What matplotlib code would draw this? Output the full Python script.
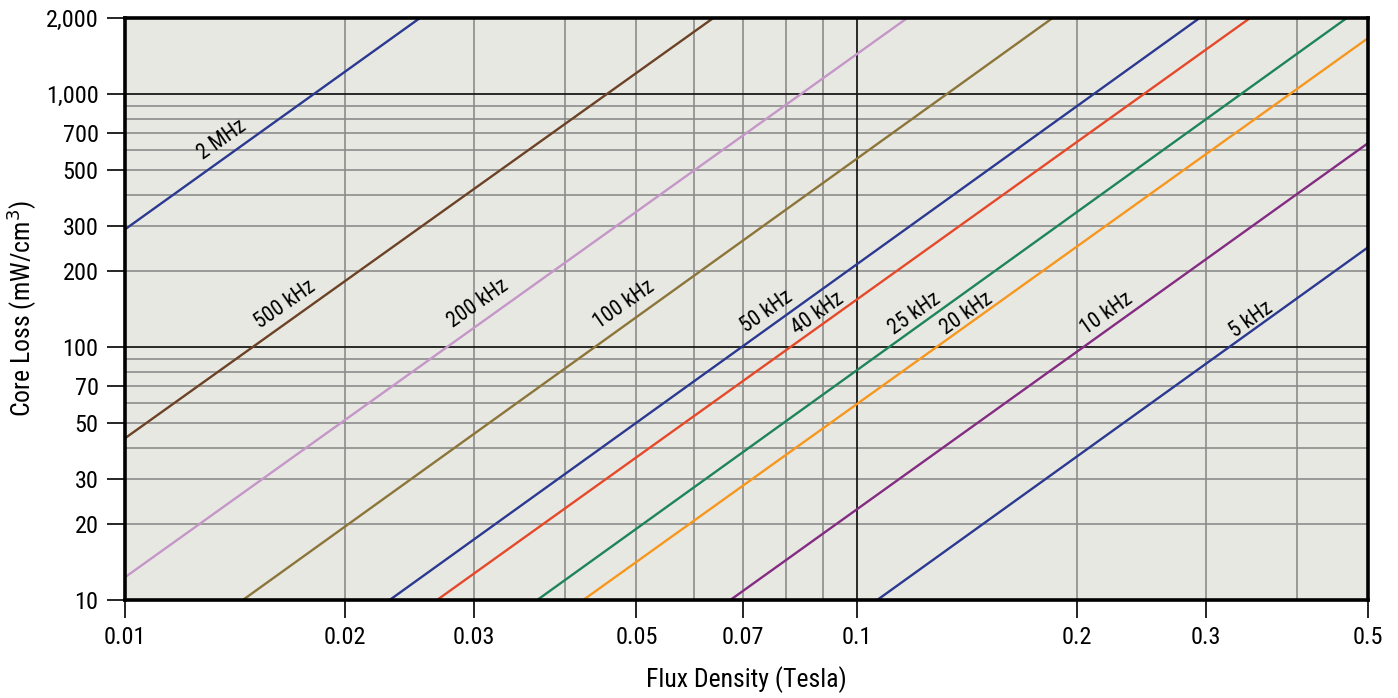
import matplotlib
matplotlib.use('Agg')
import matplotlib.pyplot as plt
import matplotlib.ticker as ticker
from matplotlib import font_manager as fm

# series: two end points per line (B in Tesla, loss in mW/cm3)
labels = ['2 MHz', '500 kHz', '200 kHz', '100 kHz', '50 kHz',
          '40 kHz', '25 kHz', '20 kHz', '10 kHz', '5 kHz']
x_start = [0.01, 0.01, 0.01, 0.01449, 0.0230, 0.0267, 0.0366, 0.0423, 0.0672, 0.1067]
y_start = [292, 43.6, 12.3, 10, 10, 10, 10, 10, 10, 10]
x_end = [0.0253, 0.0637, 0.1173, 0.1853, 0.2943, 0.345, 0.4677, 0.5, 0.5, 0.5]
y_end = [2000, 2000, 2000, 2000, 2000, 2000, 2000, 1665, 640, 248]
colors = ['#2b3990', '#6b4226', '#c597c8', '#8c7538', '#2b3990',
          '#e5492a', '#1e845a', '#f7971e', '#842b82', '#2b3990']
# label anchor points
lab_x = [0.01358, 0.01655, 0.0304, 0.0481, 0.0754, 0.0885, 0.1202, 0.1416, 0.2198, 0.3467]
lab_y = [658, 146.6, 149, 146.6, 137.5, 136, 136, 136, 136, 128]

xticks = [0.01, 0.02, 0.03, 0.05, 0.07, 0.1, 0.2, 0.3, 0.5]
yticks = [10, 20, 30, 50, 70, 100, 200, 300, 500, 700, 1000, 2000]
xgrid = [0.02, 0.03, 0.04, 0.05, 0.06, 0.07, 0.08, 0.09, 0.2, 0.3, 0.4]
ygrid = [20, 30, 40, 50, 60, 70, 80, 90, 200, 300, 400, 500, 600, 700, 800, 900]
xgrid_dark = [0.1]
ygrid_dark = [100, 1000]

names = {f.name for f in fm.fontManager.ttflist}
font = 'DejaVu Sans'
for cand in ['Liberation Sans Narrow', 'Roboto Condensed', 'Open Sans Condensed', 'Noto Sans Condensed']:
    if cand in names:
        font = cand
        break
plt.rcParams['font.family'] = [font, 'DejaVu Sans']
stretch = 'condensed' if font == 'DejaVu Sans' else 'normal'

fig = plt.figure(figsize=(13.98, 6.98), dpi=100)
ax = fig.add_axes([125 / 1398, 1 - 600 / 698, 1243 / 1398, 582 / 698])
ax.set_facecolor('#e8e8e3')
ax.set_xscale('log')
ax.set_yscale('log')
ax.set_xlim(0.01, 0.5)
ax.set_ylim(10, 2000)

for g in xgrid:
    ax.axvline(g, color='#8c8c8c', lw=1.2, zorder=1)
for g in ygrid:
    ax.axhline(g, color='#8c8c8c', lw=1.2, zorder=1)
for g in xgrid_dark:
    ax.axvline(g, color='#1a1a1a', lw=1.3, zorder=1)
for g in ygrid_dark:
    ax.axhline(g, color='#1a1a1a', lw=1.3, zorder=1)

for i in range(len(labels)):
    ax.plot([x_start[i], x_end[i]], [y_start[i], y_end[i]], color=colors[i], lw=1.7, zorder=3)
    ax.text(lab_x[i], lab_y[i], labels[i], rotation=35, ha='center', va='center',
            rotation_mode='anchor', fontsize=15.5, fontstretch=stretch, color='black', zorder=4)

ax.xaxis.set_major_locator(ticker.FixedLocator(xticks))
ax.yaxis.set_major_locator(ticker.FixedLocator(yticks))
ax.xaxis.set_minor_locator(ticker.NullLocator())
ax.yaxis.set_minor_locator(ticker.NullLocator())
ax.xaxis.set_major_formatter(ticker.FuncFormatter(lambda v, p: f'{v:g}'))
ax.yaxis.set_major_formatter(ticker.FuncFormatter(lambda v, p: f'{int(v):,}'))
ax.tick_params(axis='both', direction='out', length=13, width=1.2, color='black',
               labelsize=17.5, pad=6)
for lab in ax.get_xticklabels() + ax.get_yticklabels():
    lab.set_fontstretch(stretch)

for s in ax.spines.values():
    s.set_linewidth(2.6)
    s.set_color('black')
    s.set_zorder(5)

ax.set_xlabel('Flux Density (Tesla)', fontsize=18.5, fontstretch=stretch, labelpad=12)
ax.set_ylabel('Core Loss (mW/cm$^3$)', fontsize=18.5, fontstretch=stretch, labelpad=5)

fig.savefig('out.png', dpi=100, facecolor='white')
